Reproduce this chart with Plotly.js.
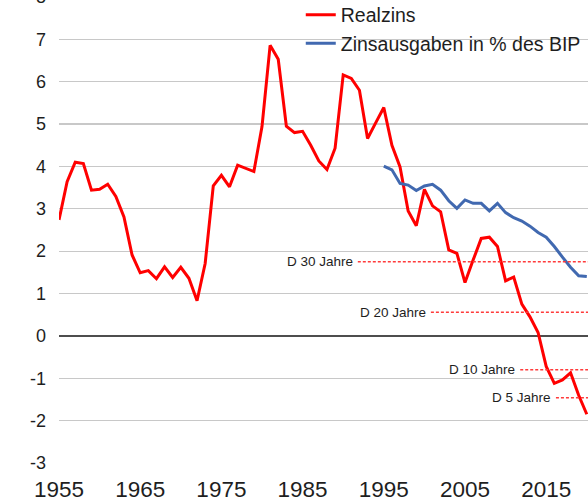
<!DOCTYPE html>
<html><head><meta charset="utf-8">
<script src="https://cdn.plot.ly/plotly-3.0.1.min.js"></script>
<style>
html,body{margin:0;padding:0;overflow:hidden;width:588px;height:504px;background:#fff}
#chart{position:absolute;left:0;top:-40px;width:700px;height:560px}
</style>
</head><body><div id="chart"></div>
<script>
// Realzins (red), 1955-2020
const realYears = [1955,1956,1957,1958,1959,1960,1961,1962,1963,1964,1965,1966,1967,1968,1969,1970,
  1971,1972,1973,1974,1975,1976,1977,1978,1979,1980,1981,1982,1983,1984,1985,1986,1987,1988,1989,1990,
  1991,1992,1993,1994,1995,1996,1997,1998,1999,2000,2001,2002,2003,2004,2005,2006,2007,2008,2009,2010,
  2011,2012,2013,2014,2015,2016,2017,2018,2019,2020];
const realzins = [2.74,3.64,4.10,4.07,3.44,3.46,3.58,3.29,2.81,1.91,1.49,1.54,1.35,1.63,1.38,1.62,
  1.36,0.83,1.71,3.54,3.79,3.52,4.03,3.95,3.88,4.94,6.86,6.53,4.95,4.80,4.83,4.50,4.13,3.93,4.43,6.16,
  6.08,5.80,4.66,5.03,5.39,4.50,3.99,2.95,2.60,3.46,3.07,2.93,2.03,1.95,1.26,1.79,2.30,2.33,2.11,1.30,
  1.39,0.75,0.45,0.08,-0.72,-1.12,-1.04,-0.87,-1.40,-1.85];

// Zinsausgaben in % des BIP (blue), 1995-2020
const zinsYears = [1995,1996,1997,1998,1999,2000,2001,2002,2003,2004,2005,2006,2007,2008,2009,2010,
  2011,2012,2013,2014,2015,2016,2017,2018,2019,2020];
const zinsausgaben = [4.01,3.92,3.60,3.56,3.43,3.54,3.58,3.44,3.19,3.01,3.21,3.13,3.13,2.95,3.13,2.91,
  2.79,2.71,2.59,2.44,2.33,2.11,1.86,1.62,1.42,1.40];

// Bund yields (dashed reference lines)
const bundLabels = ["D 30 Jahre","D 20 Jahre","D 10 Jahre","D 5 Jahre"];
const bundValues = [1.75, 0.56, -0.80, -1.46];
const bundStart  = [1991.8, 2000.8, 2011.8, 2016.2];
const bundEnd    = [2030, 2030, 2030, 2030];

const xTicks = [1955,1965,1975,1985,1995,2005,2015];
const yTicks = [-3,-2,-1,0,1,2,3,4,5,6,7,8];

const textColor = '#1e1e1e';
const traces = [
  {x: realYears, y: realzins, type:'scatter', mode:'lines', name:'Realzins',
   line:{color:'#ff0000', width:3}, legendgroup:'a'},
  {x: zinsYears, y: zinsausgaben, type:'scatter', mode:'lines', name:'Zinsausgaben in % des BIP',
   line:{color:'#4169b0', width:3}, legendgroup:'b'}
];
const annotations = [];
bundLabels.forEach((lab, i) => {
  traces.push({x:[bundStart[i], bundEnd[i]], y:[bundValues[i], bundValues[i]], type:'scatter',
    mode:'lines', showlegend:false, hoverinfo:'skip',
    line:{color:'#ff3b3b', width:1.5, dash:'3px,2px'}});
  annotations.push({x: bundStart[i], y: bundValues[i], xref:'x', yref:'y', text: lab,
    showarrow:false, xanchor:'right', yanchor:'middle', xshift:-3,
    font:{family:'Liberation Sans, Arial, sans-serif', size:13.5, color:textColor}});
});

const layout = {
  width:700, height:560,
  margin:{l:59, r:32, t:37, b:57},
  paper_bgcolor:'#fff', plot_bgcolor:'#fff',
  font:{family:'Liberation Sans, Arial, sans-serif', color:textColor},
  showlegend:true,
  legend:{x:0.397, y:1.003, xanchor:'left', yanchor:'top', bgcolor:'rgba(0,0,0,0)',
    font:{size:19.5, color:textColor}, traceorder:'grouped', tracegroupgap:0},
  xaxis:{range:[1955,2030], tickvals:xTicks, ticktext:xTicks.map(String), showgrid:false,
    zeroline:false, showline:false, ticks:'', tickfont:{size:22.5, color:textColor},
    ticklabelstandoff:10},
  yaxis:{range:[-3,8], tickvals:yTicks, ticktext:yTicks.map(String), showgrid:true,
    gridcolor:'#c8c8c8', gridwidth:1.2, zeroline:true, zerolinecolor:'#4d4d4d', zerolinewidth:1.6,
    showline:false, ticks:'', tickfont:{size:18, color:textColor}, ticklabelstandoff:12},
  annotations: annotations
};
Plotly.newPlot('chart', traces, layout, {displayModeBar:false, staticPlot:true});
</script>
</body></html>
